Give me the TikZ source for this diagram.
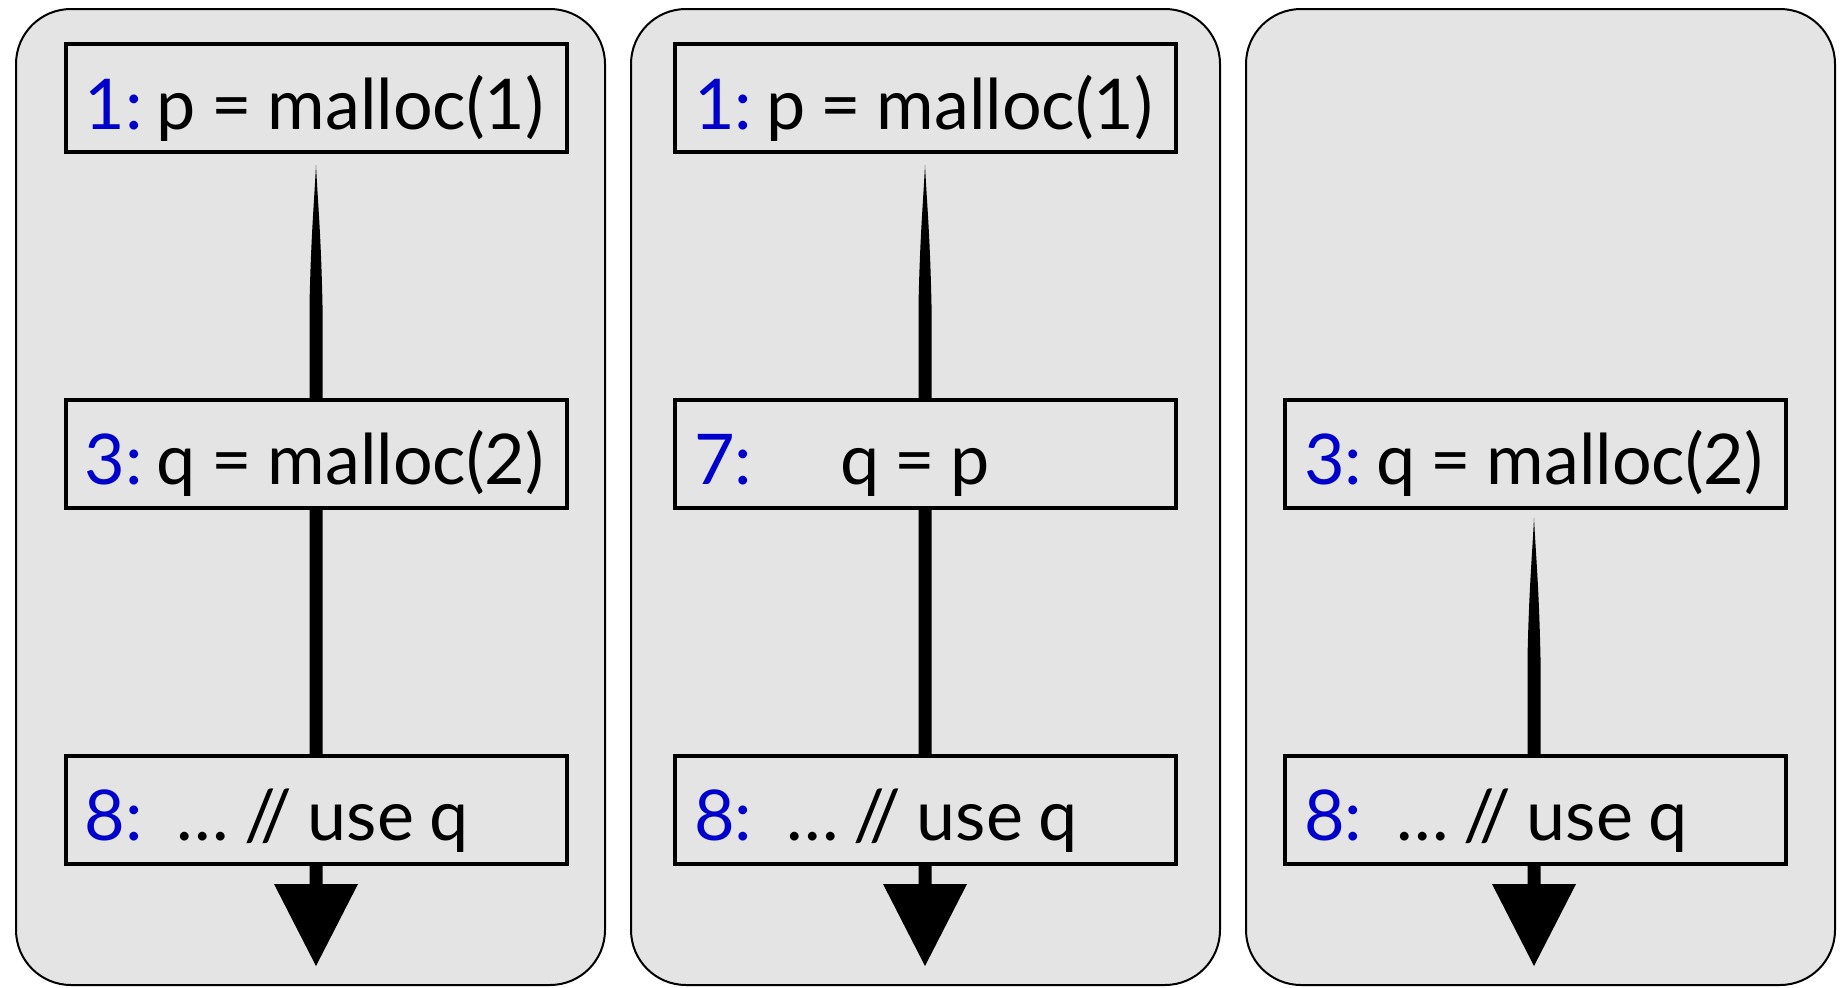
\documentclass[tikz,border=0pt]{standalone}
\usepackage{fontspec}
\setmainfont{Lato}
\usetikzlibrary{calc}
\definecolor{panelgray}{RGB}{228,228,228}
\definecolor{lblblue}{RGB}{0,0,204}
\newcommand\lbl[1]{{\color{lblblue}#1}}
\newcommand\brusharrow[2]{%
  \fill (#1) .. controls ($(#1)+(2,40)$) and ($(#1)+(5,70)$) .. ($(#1)+(6.5,140)$)
    -- ($(#2)+(6.5,-82)$) -- ($(#2)+(42,-82)$) -- (#2) -- ($(#2)+(-42,-82)$)
    -- ($(#2)+(-6.5,-82)$) -- ($(#1)+(-6.5,140)$)
    .. controls ($(#1)+(-5,70)$) and ($(#1)+(-2,40)$) .. (#1) -- cycle;}
\newcommand\stmttext[2]{\mbox{\spaceskip=0.22em\relax #1#2}}
\tikzset{
  panel/.style={draw=black, line width=2bp, fill=panelgray, rounded corners=55bp},
  stmt/.style={draw=black, line width=4bp, fill=panelgray, minimum width=501bp,
    minimum height=108bp, text width=463bp, inner xsep=19bp, inner ysep=0bp,
    align=left, text height=72bp, text depth=10bp,
    font=\fontsize{70bp}{76bp}\selectfont},
}
\begin{document}
\begin{tikzpicture}[x=1bp,y=-1bp]
\useasboundingbox (0,0) rectangle (1847,987);
% panels
\draw[panel] (16,9) rectangle (605,985);
\draw[panel] (631,9) rectangle (1220,985);
\draw[panel] (1246,9) rectangle (1835,985);
% arrow anchors
\coordinate (s1) at (316,165);
\coordinate (t1) at (316,966);
\coordinate (s2) at (925,165);
\coordinate (t2) at (925,966);
\coordinate (s3) at (1534,518);
\coordinate (t3) at (1534,966);
\brusharrow{s1}{t1}
\brusharrow{s2}{t2}
\brusharrow{s3}{t3}
% statements
\node[stmt] (a1) at (316.5,98) {\stmttext{\makebox[72bp][l]{\lbl{1:}}}{p = malloc(1)}};
\node[stmt] (a3) at (316.5,453.5) {\stmttext{\makebox[72bp][l]{\lbl{3:}}}{q = malloc(2)}};
\node[stmt] (a8) at (316.5,809.5) {\stmttext{\makebox[92bp][l]{\lbl{8:}}}{… // use q}};
\node[stmt] (b1) at (925.5,98) {\stmttext{\makebox[72bp][l]{\lbl{1:}}}{p = malloc(1)}};
\node[stmt] (b7) at (925.5,453.5) {\stmttext{\makebox[146bp][l]{\lbl{7:}}}{q = p}};
\node[stmt] (b8) at (925.5,809.5) {\stmttext{\makebox[92bp][l]{\lbl{8:}}}{… // use q}};
\node[stmt] (c3) at (1535.5,453.5) {\stmttext{\makebox[72bp][l]{\lbl{3:}}}{q = malloc(2)}};
\node[stmt] (c8) at (1535.5,809.5) {\stmttext{\makebox[92bp][l]{\lbl{8:}}}{… // use q}};
\end{tikzpicture}
\end{document}
